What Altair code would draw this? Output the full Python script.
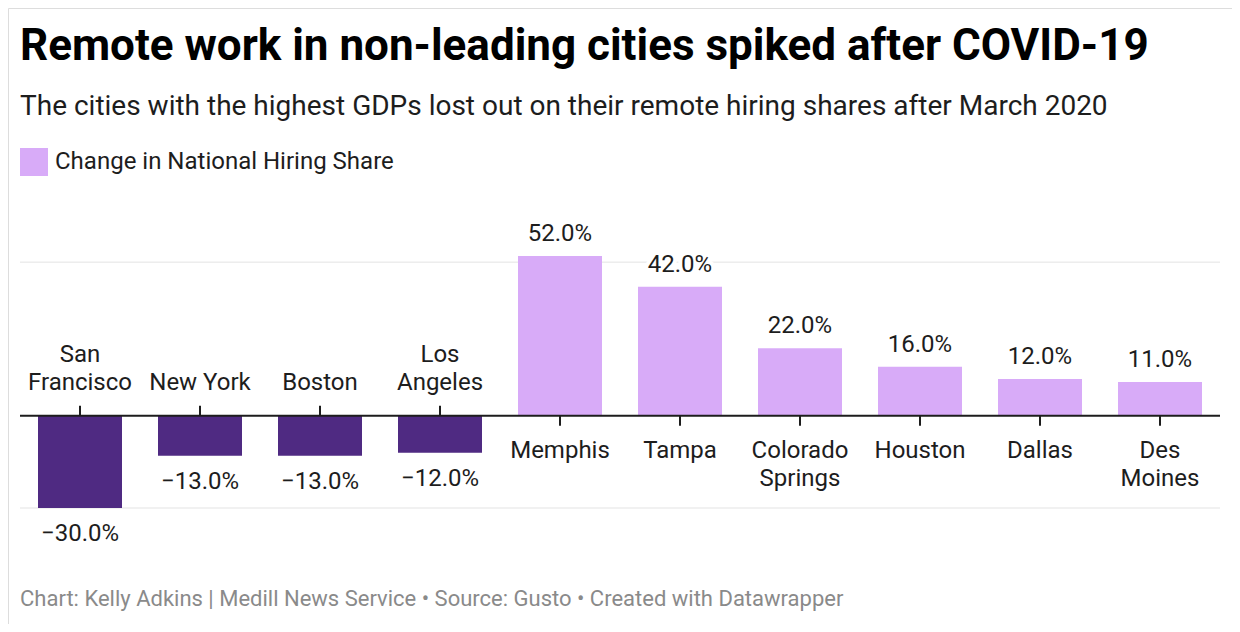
import altair as alt
import pandas as pd

# ---- data ----
cities = ["San\nFrancisco", "New York", "Boston", "Los\nAngeles", "Memphis",
          "Tampa", "Colorado\nSprings", "Houston", "Dallas", "Des\nMoines"]
change = [-30, -13, -13, -12, 52, 42, 22, 16, 12, 11]
grid_values = [50, -30]

TITLE = "Remote work in non-leading cities spiked after COVID-19"
SUBTITLE = "The cities with the highest GDPs lost out on their remote hiring shares after March 2020"
SERIES = "Change in National Hiring Share"
FOOTER = "Chart: Kelly Adkins | Medill News Service • Source: Gusto • Created with Datawrapper"

DARK = "#4f2a82"
LIGHT = "#d8abf8"
TEXT = "#1d1d1d"
FONT = "Roboto"

df = pd.DataFrame({"city": cities, "change": change})
df["series"] = SERIES
df["zero"] = 0
df["multi"] = df["city"].str.contains("\n")

W, H = 1224, 616
xscale = alt.Scale(domain=cities, range=[12, 1212], paddingInner=0.3, paddingOuter=0.15)
yscale = alt.Scale(domain=[-30, 52], range=[500, 248], nice=False, zero=False)

base = alt.Chart(df).encode(
    x=alt.X("city:N", sort=cities, scale=xscale, axis=None)
)

grid = alt.Chart(pd.DataFrame({"g": grid_values})).mark_rule(
    color="#e3e3e3", strokeWidth=1
).encode(y=alt.Y("g:Q", scale=yscale, axis=None), x=alt.value(12), x2=alt.value(1212))

bars = base.mark_bar().encode(
    y=alt.Y("change:Q", scale=yscale, axis=None),
    y2=alt.Y2("zero:Q"),
    color=alt.condition(
        alt.datum.change < 0,
        alt.value(DARK),
        alt.Color("series:N", scale=alt.Scale(domain=[SERIES], range=[LIGHT]),
                  legend=alt.Legend(orient="none", legendX=12, legendY=140, title=None,
                                    symbolType="square", symbolSize=784,
                                    symbolStrokeWidth=0, symbolOpacity=1,
                                    labelFontSize=24, labelFont=FONT, labelColor=TEXT,
                                    labelOffset=7, labelLimit=0, padding=0)),
    ),
)

zero_line = alt.Chart(pd.DataFrame({"z": [0]})).mark_rule(
    color=TEXT, strokeWidth=2
).encode(y=alt.Y("z:Q", scale=yscale, axis=None), x=alt.value(12), x2=alt.value(1212))

neg = base.transform_filter("datum.change < 0")
pos = base.transform_filter("datum.change >= 0")

ticks_neg = neg.mark_rule(color=TEXT, strokeWidth=2, y2Offset=-10).encode(
    y=alt.Y("zero:Q", scale=yscale, axis=None), y2="zero:Q")
ticks_pos = pos.mark_rule(color=TEXT, strokeWidth=2, y2Offset=10).encode(
    y=alt.Y("zero:Q", scale=yscale, axis=None), y2="zero:Q")

lab_neg_1 = neg.transform_filter("!datum.multi").mark_text(
    baseline="bottom", dy=-21, fontSize=24, font=FONT, color=TEXT).encode(
    y=alt.Y("zero:Q", scale=yscale, axis=None), text="city:N")
lab_neg_2 = neg.transform_filter("datum.multi").mark_text(
    baseline="bottom", dy=-49, fontSize=24, font=FONT, color=TEXT,
    lineBreak="\n", lineHeight=28).encode(
    y=alt.Y("zero:Q", scale=yscale, axis=None), text="city:N")
lab_pos = pos.mark_text(baseline="top", dy=23, fontSize=24, font=FONT, color=TEXT,
                        lineBreak="\n", lineHeight=28).encode(
    y=alt.Y("zero:Q", scale=yscale, axis=None), text="city:N")

fmt = "format(datum.change, '.1f') + '%'"
val_layers = []
for sub, dy in ((pos, -15), (neg, 33)):
    s = sub.transform_calculate(vlabel=fmt)
    val_layers.append(s.mark_text(baseline="alphabetic", dy=dy, fontSize=24, font=FONT,
                                  color="white", stroke="white", strokeWidth=8).encode(
        y=alt.Y("change:Q", scale=yscale, axis=None), text="vlabel:N"))
    val_layers.append(s.mark_text(baseline="alphabetic", dy=dy, fontSize=24, font=FONT,
                                  color=TEXT).encode(
        y=alt.Y("change:Q", scale=yscale, axis=None), text="vlabel:N"))


def text_layer(txt, y, size, color, weight="normal"):
    return alt.Chart(pd.DataFrame({"t": [txt]})).mark_text(
        align="left", baseline="alphabetic", fontSize=size, font=FONT,
        fontWeight=weight, color=color
    ).encode(x=alt.value(12), y=alt.value(y), text="t:N")


title = text_layer(TITLE, 52, 44, "#000000", "bold")
subtitle = text_layer(SUBTITLE, 107, 28, TEXT)
footer = text_layer(FOOTER, 598, 22, "#8a8a8a")

chart = alt.layer(
    grid, bars, zero_line, ticks_neg, ticks_pos, lab_neg_1, lab_neg_2, lab_pos, *val_layers,
    title, subtitle, footer
).properties(
    width=W, height=H, padding=0, autosize=alt.AutoSizeParams(type="none")
).configure_view(stroke=None).configure(background="white")

chart.save("out.html", embed_options={"renderer": "svg", "actions": False})
